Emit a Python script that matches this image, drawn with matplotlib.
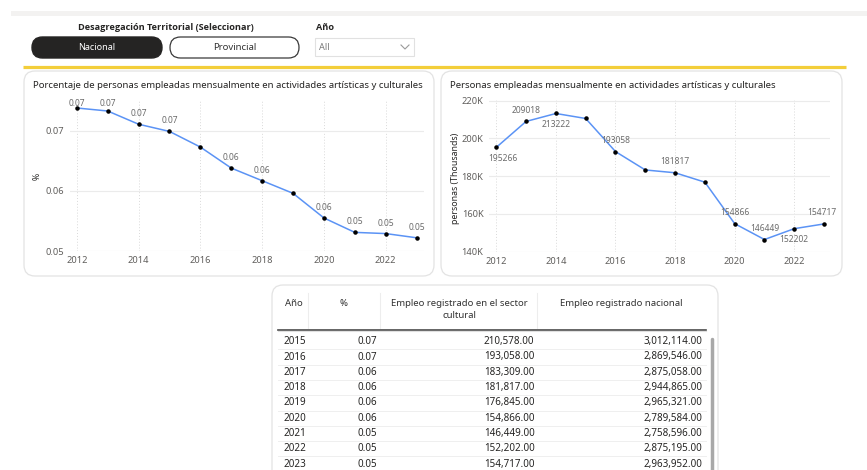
import matplotlib.pyplot as plt
import numpy as np
from matplotlib.patches import FancyBboxPatch

### FIGURE SIZE (pixels) ###
W, H = 867, 470
plt.rcParams['font.family'] = ['Noto Sans', 'DejaVu Sans']
BOLD = ['Open Sans', 'Lato', 'DejaVu Sans']

### DATA ###
years = [2012, 2013, 2014, 2015, 2016, 2017, 2018, 2019, 2020, 2021, 2022, 2023]
pct = [0.0738, 0.0733, 0.0711, 0.0699, 0.0673, 0.0638, 0.0617, 0.0596, 0.0555, 0.0531, 0.0529, 0.0522]
pct_labels = ['0.07', '0.07', '0.07', '0.07', '', '0.06', '0.06', '', '0.06', '0.05', '0.05', '0.05']
employed = [195266, 209018, 213222, 210578, 193058, 183309, 181817, 176845, 154866, 146449, 152202, 154717]
employed_labels = ['195266', '209018', '213222', '', '193058', '', '181817', '', '154866', '146449', '152202', '154717']

table_years = years[3:]
table_pct = pct[3:]
table_cultural = employed[3:]
table_national = [3012114, 2869546, 2875058, 2944865, 2965321, 2789584, 2758596, 2875195, 2963952]

table_headers = ['Año', '%', 'Empleo registrado en el sector\ncultural', 'Empleo registrado nacional']
slicer_title = 'Desagregación Territorial (Seleccionar)'
slicer_options = ['Nacional', 'Provincial']

# label placement for right chart: 1 above, -1 below
emp_label_side = [-1, 1, -1, 0, 1, 0, 1, 0, 1, 1, -1, 1]
emp_label_dx = [7, 0, 0, 0, 0, 0, 0, 0, 0, 0, 0, -2]

LINE = '#5B93F5'
TXT = '#252423'
GREY = '#605E5C'


def rect(x0, y0, x1, y1):
    # pixel box (top-left origin) -> figure fraction
    return [x0 / W, 1 - y1 / H, (x1 - x0) / W, (y1 - y0) / H]


fig = plt.figure(figsize=(W / 100, H / 100), dpi=100)
fig.patch.set_facecolor('white')

### BACKGROUND LAYER IN PIXEL COORDS ###
bg = fig.add_axes([0, 0, 1, 1], zorder=0)
bg.set_xlim(0, W)
bg.set_ylim(H, 0)
bg.axis('off')

bg.add_patch(plt.Rectangle((11, 11), W - 11, 5, color='#F3F2F1', lw=0))
bg.text(166, 27, slicer_title, ha='center', va='center', fontsize=6.6, fontweight='bold',
        color=TXT, family=BOLD)
bg.text(316, 27, 'Año', ha='left', va='center', fontsize=6.6, fontweight='bold', color=TXT, family=BOLD)

bg.add_patch(FancyBboxPatch((32, 37), 130, 21, boxstyle='round,pad=0,rounding_size=10.5',
                            fc='#252423', ec='#252423', lw=1))
bg.text(97, 47.5, slicer_options[0], ha='center', va='center', fontsize=6.5, color='white')
bg.add_patch(FancyBboxPatch((170, 37), 129, 21, boxstyle='round,pad=0,rounding_size=10.5',
                            fc='white', ec='#3a3a3a', lw=0.9))
bg.text(235, 47.5, slicer_options[1], ha='center', va='center', fontsize=6.9, color='#333333')

bg.add_patch(plt.Rectangle((315, 38), 99, 18, fc='white', ec='#E1E1E1', lw=0.8))
bg.text(319, 47.5, 'All', ha='left', va='center', fontsize=6.6, color='#7a7a7a')
bg.plot([401, 405, 409], [45, 49, 45], color='#9a9a9a', lw=0.8)

bg.plot([23, 846], [66.8, 66.8], color='#F3CE3A', lw=2.3, solid_capstyle='butt')

# cards
for x0, y0, x1, y1 in [(24, 71, 434, 276), (441, 71, 842, 276), (272, 285, 718, 490)]:
    bg.add_patch(FancyBboxPatch((x0, y0), x1 - x0, y1 - y0, boxstyle='round,pad=0,rounding_size=11',
                                fc='white', ec='#E3E3E3', lw=0.9))

bg.text(33, 85, 'Porcentaje de personas empleadas mensualmente en actividades artísticas y culturales',
        ha='left', va='center', fontsize=6.9, color=TXT)
bg.text(450, 85, 'Personas empleadas mensualmente en actividades artísticas y culturales',
        ha='left', va='center', fontsize=6.9, color=TXT)
bg.text(37, 176, '%', rotation=90, ha='center', va='center', fontsize=6.3, color=TXT)
bg.text(455, 178, 'personas (Thousands)', rotation=90, ha='center', va='center', fontsize=6.3, color=TXT)

### LEFT CHART: PERCENTAGE ###
ax1 = fig.add_axes(rect(70, 100, 424, 251), zorder=1)
ax1.patch.set_alpha(0)
ax1.plot(years, pct, color=LINE, lw=1.1, zorder=3)
ax1.scatter(years, pct, s=5, color='black', zorder=4)
ax1.set_xlim(2011.78, 2023.24)
ax1.set_ylim(0.05, 0.07513)
ax1.set_yticks([0.05, 0.06, 0.07])
ax1.set_yticklabels(['0.05', '0.06', '0.07'])
ax1.set_xticks(range(2012, 2024, 2))
du1 = (0.07513 - 0.05) / 151
for yr, v, lab in zip(years, pct, pct_labels):
    if lab:
        ly = min(v + 10.5 * du1, 0.07458)
        ax1.text(yr, ly, lab, ha='center', va='center', fontsize=6.1, color='#6b6b6b')

### RIGHT CHART: PERSONS ###
ax2 = fig.add_axes(rect(489, 100, 830, 251.7), zorder=1)
ax2.patch.set_alpha(0)
ax2.plot(years, employed, color=LINE, lw=1.1, zorder=3)
ax2.scatter(years, employed, s=5, color='black', zorder=4)
ax2.set_xlim(2011.755, 2023.2)
ax2.set_ylim(140000, 220370)
ax2.set_yticks(range(140000, 220001, 20000))
ax2.set_yticklabels([f'{t // 1000}K' for t in range(140000, 220001, 20000)])
ax2.set_xticks(range(2012, 2024, 2))
for yr, v, lab, side, dx in zip(years, employed, employed_labels, emp_label_side, emp_label_dx):
    if lab:
        ax2.annotate(lab, (yr, v), xytext=(dx, 11 * side), textcoords='offset pixels',
                     ha='center', va='center', fontsize=6.1, color='#6b6b6b')

for ax in (ax1, ax2):
    for s in ax.spines.values():
        s.set_visible(False)
    ax.tick_params(length=0, labelsize=6.7, labelcolor=GREY)
    ax.tick_params(axis='x', pad=3.5)
    ax.tick_params(axis='y', pad=4)
    ax.yaxis.grid(True, color='#EBEBEB', lw=0.8)
    ax.xaxis.grid(True, color='#D9D9D9', lw=0.7, linestyle=(0, (1, 2)))
    ax.set_axisbelow(True)

### TABLE ###
col_sep = [308, 380, 537]
head_x = [285, 344, 459, 621]
for x in col_sep:
    bg.plot([x, x], [293, 328], color='#EDEDED', lw=0.8)
bg.text(head_x[0], 303, table_headers[0], ha='left', va='center', fontsize=6.9, color='#333333')
bg.text(head_x[1], 303, table_headers[1], ha='center', va='center', fontsize=6.9, color='#333333')
bg.text(head_x[2], 303, table_headers[2].split('\n')[0], ha='center', va='center', fontsize=6.9, color='#333333')
bg.text(head_x[2], 316, table_headers[2].split('\n')[1], ha='center', va='center', fontsize=6.9, color='#333333')
bg.text(head_x[3], 303, table_headers[3], ha='center', va='center', fontsize=6.9, color='#333333')
bg.plot([278, 706], [329.5, 329.5], color='#4a4a4a', lw=1.2)
bg.plot([278, 706], [331, 331], color='#E0E0E0', lw=0.8)

row_h = 15.3
for i, (yr, p, c, n) in enumerate(zip(table_years, table_pct, table_cultural, table_national)):
    y = 341.7 + i * row_h
    bg.text(283, y, str(yr), ha='left', va='center', fontsize=7.1, color=TXT)
    bg.text(377, y, f'{p:.2f}', ha='right', va='center', fontsize=7.1, color=TXT)
    bg.text(534.5, y, f'{c:,.2f}', ha='right', va='center', fontsize=7.1, color=TXT)
    bg.text(702, y, f'{n:,.2f}', ha='right', va='center', fontsize=7.1, color=TXT)
    if i < len(table_years) - 1:
        bg.plot([278, 706], [y + row_h / 2, y + row_h / 2], color='#EFEFEF', lw=0.7)

# scrollbar
bg.plot([712, 712], [339, 475], color='#A8A8A8', lw=2.5, solid_capstyle='round')

plt.savefig('out.png', dpi=100)
